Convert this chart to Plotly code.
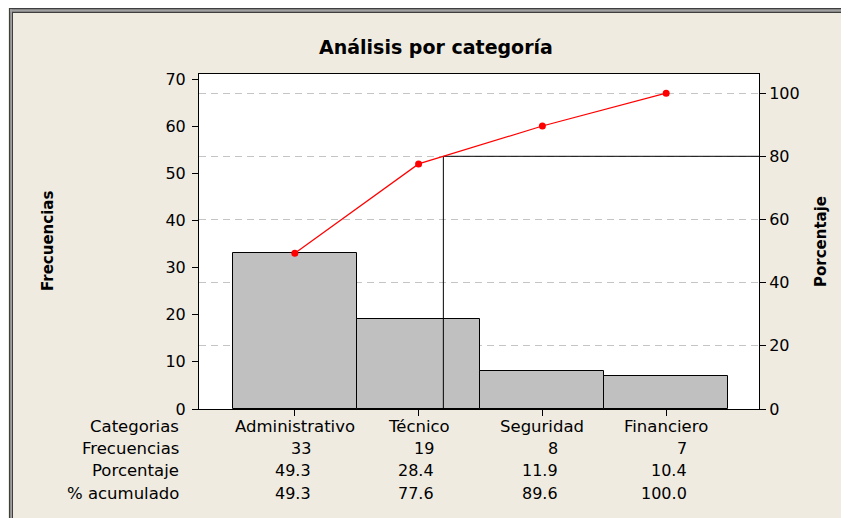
import plotly.graph_objects as go

# ---- data ----
categorias = ["Administrativo", "Técnico", "Seguridad", "Financiero"]
frecuencias = [33, 19, 8, 7]
porcentaje = [49.3, 28.4, 11.9, 10.4]
acumulado = [49.3, 77.6, 89.6, 100.0]
row_labels = ["Categorias", "Frecuencias", "Porcentaje", "% acumulado"]
umbral = 80

# ---- layout constants (page pixels; the page body adds an 8px offset) ----
OFF = 8
W, H = 849 - OFF, 518 - OFF
L, R, T, B = 199, 759, 74, 409          # plot-area box in page pixels
FONT = "DejaVu Sans"
BG = "#EFEBE1"
total = sum(frecuencias)
YMAX = 71.06                             # left-axis top
Y2MAX = YMAX / total * 100               # right axis, 100% == total
XMIN, XMAX = -0.774, 3.75

def px_x(p):
    return (p - L) / (R - L)

def px_y(p):
    return (B - p) / (B - T)

xs = list(range(len(categorias)))

# 80% crossing of the cumulative line
x80 = None
for i in range(1, len(acumulado)):
    if acumulado[i - 1] < umbral <= acumulado[i]:
        x80 = xs[i - 1] + (umbral - acumulado[i - 1]) / (acumulado[i] - acumulado[i - 1])
        break

fig = go.Figure()
fig.add_trace(go.Bar(
    x=xs, y=frecuencias, width=1,
    marker=dict(color="#C0C0C0", line=dict(color="black", width=1)),
    yaxis="y", showlegend=False, hoverinfo="skip"))
fig.add_trace(go.Scatter(
    x=[x80, x80, XMAX], y=[0, umbral, umbral], yaxis="y2", mode="lines",
    line=dict(color="black", width=1), showlegend=False, hoverinfo="skip",
    cliponaxis=False))
fig.add_trace(go.Scatter(
    x=xs, y=acumulado, yaxis="y2", mode="lines+markers",
    line=dict(color="#FF0000", width=1.2),
    marker=dict(color="#FF0000", size=7),
    showlegend=False, hoverinfo="skip"))

tickfont = dict(family=FONT, size=16, color="black")
WORD = 16.5

annotations = []
annotations.append(dict(text="<b>Análisis por categoría</b>", xref="paper", yref="paper",
                        x=px_x(436), y=px_y(47), showarrow=False,
                        font=dict(family=FONT, size=19, color="black"),
                        xanchor="center", yanchor="middle"))
annotations.append(dict(text="<b>Frecuencias</b>", xref="paper", yref="paper",
                        x=px_x(47.5), y=0.5, textangle=-90, showarrow=False,
                        font=dict(family=FONT, size=15, color="black"),
                        xanchor="center", yanchor="middle"))
annotations.append(dict(text="<b>Porcentaje</b>", xref="paper", yref="paper",
                        x=px_x(820.5), y=0.5, textangle=-90, showarrow=False,
                        font=dict(family=FONT, size=15, color="black"),
                        xanchor="center", yanchor="middle"))

row_y = [427, 448, 471, 493]
for lab, ry in zip(row_labels, row_y):
    annotations.append(dict(text=lab, xref="paper", yref="paper", x=px_x(181),
                            y=px_y(ry), showarrow=False, xanchor="right", yanchor="middle",
                            font=dict(family=FONT, size=WORD, color="black")))

def est_w(s, size=16):
    return sum(0.318 if c == "." else 0.636 for c in s) * size

for i, cat in enumerate(categorias):
    annotations.append(dict(text=cat, xref="x", yref="paper", x=xs[i], y=px_y(row_y[0]),
                            showarrow=False, xanchor="center", yanchor="middle",
                            font=dict(family=FONT, size=WORD, color="black")))
    col = [str(frecuencias[i]), f"{porcentaje[i]:.1f}", f"{acumulado[i]:.1f}"]
    shift = max(est_w(s) for s in col) / 2
    for s, ry in zip(col, row_y[1:]):
        annotations.append(dict(text=s, xref="x", yref="paper", x=xs[i], y=px_y(ry),
                                xshift=shift, showarrow=False, xanchor="right",
                                yanchor="middle",
                                font=dict(family=FONT, size=16, color="black")))

shapes = [
    # frame (double line look)
    dict(type="rect", xref="paper", yref="paper", x0=px_x(9), x1=px_x(860), y0=px_y(8),
         y1=px_y(13), fillcolor="#3f3f3f", line=dict(width=0), layer="above"),
    dict(type="rect", xref="paper", yref="paper", x0=px_x(9), x1=px_x(13), y0=px_y(530),
         y1=px_y(8), fillcolor="#3f3f3f", line=dict(width=0), layer="above"),
    dict(type="rect", xref="paper", yref="paper", x0=px_x(10), x1=px_x(860), y0=px_y(9.3),
         y1=px_y(11.7), fillcolor="#a0a0a0", line=dict(width=0), layer="above"),
    dict(type="rect", xref="paper", yref="paper", x0=px_x(10.2), x1=px_x(12), y0=px_y(530),
         y1=px_y(9.3), fillcolor="#a0a0a0", line=dict(width=0), layer="above"),
]

fig.update_layout(
    width=W, height=H,
    margin=dict(l=L - OFF, r=849 - R, t=T - OFF, b=518 - B, pad=0),
    paper_bgcolor=BG, plot_bgcolor="white",
    bargap=0, showlegend=False,
    xaxis=dict(range=[XMIN, XMAX], tickvals=xs, ticktext=[""] * len(xs),
               ticks="outside", ticklen=6, tickcolor="black", showgrid=False,
               zeroline=False, showline=True, linecolor="black", linewidth=1,
               mirror=True, fixedrange=True),
    yaxis=dict(range=[0, YMAX], dtick=10, tick0=0, ticks="outside", ticklen=6,
               tickcolor="black", showgrid=False, zeroline=False, showline=True,
               linecolor="black", linewidth=1, tickfont=tickfont, ticklabelstandoff=3),
    yaxis2=dict(range=[0, Y2MAX], dtick=20, tick0=0, overlaying="y", side="right",
                ticks="outside", ticklen=6, tickcolor="black", showgrid=True,
                gridcolor="#C4C4C4", griddash="7px,5px", gridwidth=1, zeroline=False,
                showline=True, linecolor="black", linewidth=1, tickfont=tickfont),
    annotations=annotations, shapes=shapes,
)

fig.write_html("out.html")
